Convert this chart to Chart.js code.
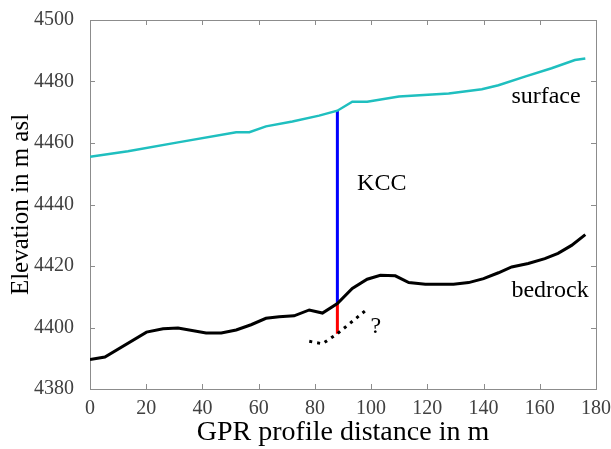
<!DOCTYPE html>
<html>
<head>
  <title>KCC profile</title>
  <script src="https://cdn.jsdelivr.net/npm/chart.js"></script>
  <style>
    body{
        margin:0px;
        padding:0px;
        background-color:white;
    }
    #chart{
        display:block;
    }
  </style>
</head>
<body>
  <canvas id="chart" width="611" height="449"></canvas>
  <script>
    // GPR profile distance (m) and elevation (m asl)
    var surfaceDist = [0, 13.5, 31.3, 52, 56.7, 62.6, 72, 81.5, 88, 93.3, 98.6, 109.9, 127.6, 139.4, 145.3, 154.7, 164.2, 172.5, 176.2];
    var surfaceElev = [4455.5, 4457.3, 4460.2, 4463.5, 4463.5, 4465.4, 4467, 4468.9, 4470.5, 4473.4, 4473.4, 4475.1, 4476.1, 4477.5, 4478.8, 4481.6, 4484.3, 4487, 4487.5];

    var bedrockDist = [0, 5.3, 20.1, 26, 31.3, 41.3, 46.7, 52, 57.3, 62.6, 67.3, 72.6, 78, 82.7, 88, 93.3, 98.6, 103.3, 108.6, 113.4, 119.3, 129.3, 134.7, 140, 145.3, 150, 155.9, 161.8, 166.5, 171.3, 176.2];
    var bedrockElev = [4389.6, 4390.4, 4398.5, 4399.6, 4399.8, 4398.2, 4398.2, 4399.2, 4400.9, 4403, 4403.5, 4403.8, 4405.7, 4404.7, 4407.8, 4412.7, 4415.7, 4417, 4416.8, 4414.6, 4414.1, 4414.1, 4414.6, 4415.9, 4417.8, 4419.7, 4420.8, 4422.4, 4424.1, 4426.7, 4430.2];

    // uncertain deeper reflector
    var altDist = [78, 82.7, 88, 98];
    var altElev = [4395.5, 4394.7, 4398, 4405.5];

    // KCC borehole position, ice and extra section
    var kccDist = 88;
    var kccTop = 4470.5;
    var kccBed = 4407.8;
    var kccBottom = 4398;

    var xTicks = [0, 20, 40, 60, 80, 100, 120, 140, 160, 180];
    var yTicks = [4380, 4400, 4420, 4440, 4460, 4480, 4500];

    function pts(xs, ys){
      return xs.map(function(x, i){ return {x: x, y: ys[i]}; });
    }

    var serif = '"Liberation Serif", "Times New Roman", serif';

    // frame with inward ticks on all four sides
    var framePlugin = {
      id: 'frame',
      beforeDatasetsDraw: function(chart){
        var ctx = chart.ctx, a = chart.chartArea;
        var xs = chart.scales.x, ys = chart.scales.y;
        ctx.save();
        ctx.strokeStyle = '#8c8c8c';
        ctx.lineWidth = 1;
        ctx.strokeRect(a.left + 0.5, a.top + 0.5, a.right - a.left, a.bottom - a.top);
        ctx.beginPath();
        xTicks.forEach(function(v){
          var px = Math.round(xs.getPixelForValue(v)) + 0.5;
          ctx.moveTo(px, a.bottom); ctx.lineTo(px, a.bottom - 5);
          ctx.moveTo(px, a.top); ctx.lineTo(px, a.top + 5);
        });
        yTicks.forEach(function(v){
          var py = Math.round(ys.getPixelForValue(v)) + 0.5;
          ctx.moveTo(a.left, py); ctx.lineTo(a.left + 5, py);
          ctx.moveTo(a.right, py); ctx.lineTo(a.right - 5, py);
        });
        ctx.stroke();
        ctx.restore();
      }
    };

    // text labels placed in data units
    var labelPlugin = {
      id: 'labels',
      afterDatasetsDraw: function(chart){
        var ctx = chart.ctx;
        var xs = chart.scales.x, ys = chart.scales.y;
        var items = [
          ['surface', 149.9, 4472.9, 'left'],
          ['KCC', 95, 4444.8, 'left'],
          ['bedrock', 149.9, 4409.8, 'left'],
          ['?', 101.7, 4398.1, 'center']
        ];
        ctx.save();
        ctx.fillStyle = '#000';
        ctx.font = '24px ' + serif;
        ctx.textBaseline = 'alphabetic';
        items.forEach(function(t){
          ctx.textAlign = t[3];
          ctx.fillText(t[0], xs.getPixelForValue(t[1]), ys.getPixelForValue(t[2]));
        });
        ctx.restore();
      }
    };

    var ctx = document.getElementById('chart').getContext('2d');
    var chart = new Chart(ctx, {
      type: 'scatter',
      data: {
        datasets: [{
          label: 'surface',
          data: pts(surfaceDist, surfaceElev),
          showLine: true,
          borderColor: '#1fbfbf',
          borderWidth: 2.5,
          pointRadius: 0,
          tension: 0
        }, {
          label: 'bedrock',
          data: pts(bedrockDist, bedrockElev),
          showLine: true,
          borderColor: '#000000',
          borderWidth: 3,
          pointRadius: 0,
          tension: 0
        }, {
          label: 'alternative',
          data: pts(altDist, altElev),
          showLine: true,
          borderColor: '#000000',
          borderWidth: 3,
          borderDash: [3, 5],
          pointRadius: 0,
          tension: 0
        }, {
          label: 'KCC ice',
          data: pts([kccDist, kccDist], [kccTop, kccBed]),
          showLine: true,
          borderColor: '#0000ff',
          borderWidth: 3,
          pointRadius: 0
        }, {
          label: 'KCC extra',
          data: pts([kccDist, kccDist], [kccBed, kccBottom]),
          showLine: true,
          borderColor: '#ff0000',
          borderWidth: 3,
          pointRadius: 0
        }]
      },
      options: {
        responsive: false,
        animation: false,
        layout: {
          padding: {left: 0, right: 12, top: 17, bottom: 0}
        },
        plugins: {
          legend: {display: false},
          tooltip: {enabled: false}
        },
        scales: {
          x: {
            type: 'linear',
            min: 0,
            max: 180,
            afterFit: function(s){ s.height = 60; },
            afterBuildTicks: function(s){ s.ticks = xTicks.map(function(v){ return {value: v}; }); },
            grid: {display: false},
            border: {display: false},
            ticks: {
              color: '#404040',
              padding: 0,
              maxRotation: 0,
              font: {family: serif, size: 20},
              callback: function(v){ return String(v); }
            },
            title: {
              display: true,
              text: 'GPR profile distance in m',
              color: '#000',
              padding: {top: 0, bottom: 0},
              font: {family: serif, size: 28}
            }
          },
          y: {
            type: 'linear',
            min: 4380,
            max: 4500,
            afterFit: function(s){ s.width = 90; },
            afterBuildTicks: function(s){ s.ticks = yTicks.map(function(v){ return {value: v}; }); },
            grid: {display: false},
            border: {display: false},
            ticks: {
              color: '#404040',
              padding: 8,
              font: {family: serif, size: 20},
              callback: function(v){ return String(v); }
            },
            title: {
              display: true,
              text: 'Elevation in m asl',
              color: '#000',
              padding: {top: 6, bottom: 0},
              font: {family: serif, size: 25}
            }
          }
        }
      },
      plugins: [framePlugin, labelPlugin]
    });
  </script>
</body>
</html>
